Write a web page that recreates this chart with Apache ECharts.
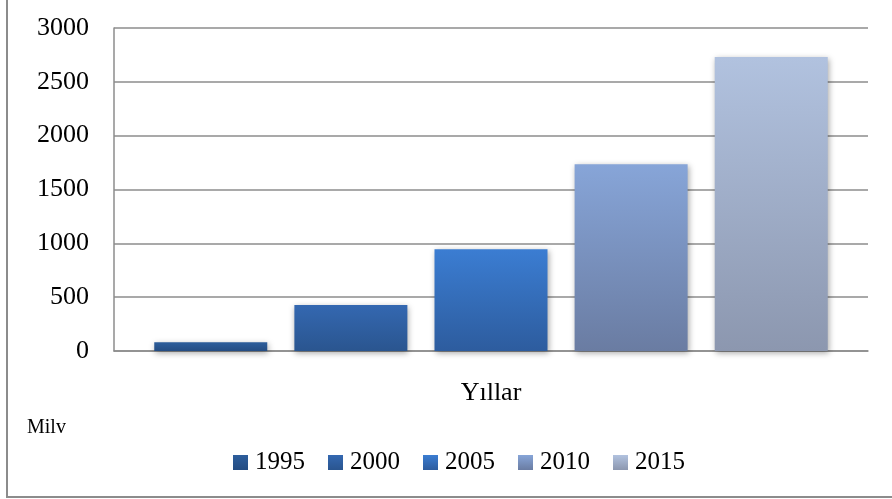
<!DOCTYPE html>
<html>
<head>
<meta charset="utf-8">
<script src="https://cdn.jsdelivr.net/npm/echarts@6/dist/echarts.min.js"></script>
<style>html,body{margin:0;padding:0;background:#fff}#c{width:892px;height:499px}</style>
</head>
<body>
<div id="c"></div>
<script>
var categories = ['Yıllar'];
var seriesNames = ['1995', '2000', '2005', '2010', '2015'];
var values = [[82], [428], [945], [1735], [2730]];
var yTicks = [0, 500, 1000, 1500, 2000, 2500, 3000];
var unitLabel = 'Milv';

var gradients = [
  ['#2d5e9c', '#244c82'],
  ['#3468b1', '#2a558f'],
  ['#3b7dd2', '#2d5c9e'],
  ['#87a5d8', '#6a7ca2'],
  ['#b1c2df', '#8c97af']
];
function grad(i){
  return new echarts.graphic.LinearGradient(0,0,0,1,[{offset:0,color:gradients[i][0]},{offset:1,color:gradients[i][1]}]);
}
var chart = echarts.init(document.getElementById('c'));
var series = seriesNames.map(function(n,i){
  return {
    name:n, type:'bar', data:values[i], barWidth:113, barGap:'24%',
    itemStyle:{color:grad(i), shadowBlur:6, shadowColor:'rgba(0,0,0,0.35)', shadowOffsetX:1, shadowOffsetY:2},
    emphasis:{disabled:true}
  };
});
chart.setOption({
  animation:false,
  textStyle:{fontFamily:'Liberation Serif'},
  grid:{left:114, right:24, top:28, bottom:148},
  xAxis:{
    type:'category', data:categories,
    axisLine:{lineStyle:{color:'#8c8c8c', width:1.5}},
    axisTick:{show:false},
    axisLabel:{color:'#000', fontSize:26, margin:29, fontFamily:'Liberation Serif'}
  },
  yAxis:{
    type:'value', min:yTicks[0], max:yTicks[yTicks.length-1], interval:500,
    axisLine:{show:true, lineStyle:{color:'#8c8c8c', width:1.5}},
    axisTick:{show:false},
    splitLine:{lineStyle:{color:'#8c8c8c', width:1.5}},
    axisLabel:{color:'#000', fontSize:26, margin:25, fontFamily:'Liberation Serif', formatter:function(v){return String(v);}}
  },
  legend:{
    data:seriesNames.map(function(n,i){return {name:n, itemStyle:{color:grad(i)}};}),
    top:445, left:228, icon:'rect', itemWidth:15, itemHeight:15, itemGap:23,
    textStyle:{color:'#000', fontSize:25, fontFamily:'Liberation Serif', padding:[0,0,0,2]}
  },
  graphic:[
    {type:'rect', shape:{x:7, y:-10, width:900, height:507}, style:{fill:'none', stroke:'#8c8c8c', lineWidth:2}, silent:true},
    {type:'text', left:27, top:418, style:{text:unitLabel, fontSize:20, fontFamily:'Liberation Serif', fill:'#000'}}
  ],
  series:series
});
</script>
</body>
</html>
